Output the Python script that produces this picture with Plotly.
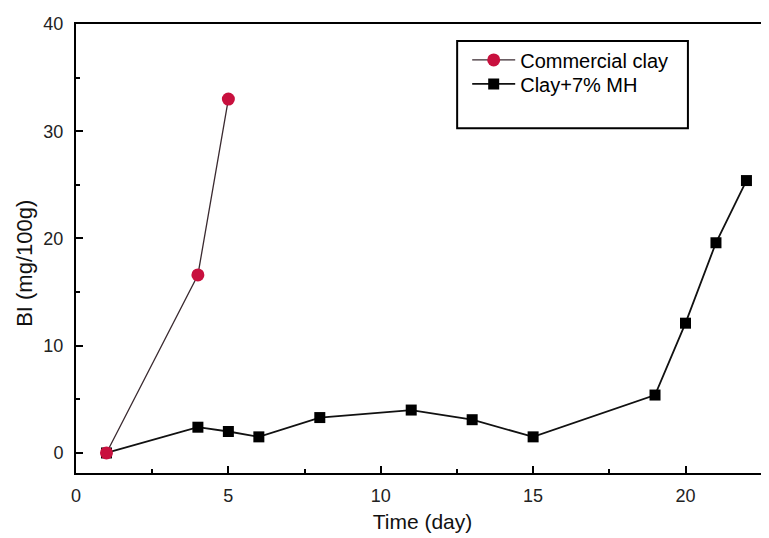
import plotly.graph_objects as go

# Data
time_commercial = [1, 4, 5]
bi_commercial = [0.0, 16.6, 33.0]

time_mh = [1, 4, 5, 6, 8, 11, 13, 15, 19, 20, 21, 22]
bi_mh = [0.0, 2.4, 2.0, 1.5, 3.3, 4.0, 3.1, 1.5, 5.4, 12.1, 19.6, 25.4]

x_ticks = [0, 5, 10, 15, 20]
y_ticks = [0, 10, 20, 30, 40]

FONT = "Arial, Liberation Sans, sans-serif"

# The page body has an 8px default margin, so the figure is sized 761x530
fig = go.Figure()
fig.add_trace(go.Scatter(
    x=time_mh, y=bi_mh, mode="lines+markers",
    name="Clay+7% MH", legend="legend2",
    line=dict(color="#111111", width=1.8),
    marker=dict(symbol="square", size=11, color="#000000",
                line=dict(width=0)),
))
fig.add_trace(go.Scatter(
    x=time_commercial, y=bi_commercial, mode="lines+markers",
    name="Commercial clay", legend="legend",
    line=dict(color="#3a2a30", width=1.3),
    marker=dict(symbol="circle", size=13, color="#c8103e",
                line=dict(width=0)),
))

fig.add_shape(type="rect", xref="paper", yref="paper",
              x0=0.550, x1=0.883, y0=0.768, y1=0.962,
              line=dict(color="#000000", width=2), fillcolor="rgba(0,0,0,0)")

fig.add_annotation(text="BI (mg/100g)", textangle=-90, showarrow=False,
                   xref="paper", yref="paper", x=-0.0736, y=0.468,
                   xanchor="center", yanchor="middle",
                   font=dict(size=22, family=FONT, color="#111111"))

legend_common = dict(xanchor="left", yanchor="top",
                     bgcolor="rgba(0,0,0,0)", borderwidth=0,
                     font=dict(size=20, family=FONT, color="#000000"),
                     tracegroupgap=0, itemwidth=43)

fig.update_layout(
    width=761, height=530,
    margin=dict(l=68, r=0, t=16, b=65),
    paper_bgcolor="white", plot_bgcolor="white",
    font=dict(family=FONT, color="#111111", size=14),
    showlegend=True,
    legend=dict(x=0.5645, y=0.9635, **legend_common),
    legend2=dict(x=0.5645, y=0.910, **legend_common),
    xaxis=dict(
        range=[0, 22.74], tickvals=x_ticks, ticktext=[str(v) for v in x_ticks],
        showgrid=False, zeroline=False, showline=True, linecolor="#000000",
        linewidth=2, mirror=True, ticks="inside", ticklen=7, tickwidth=2,
        tickcolor="#000000", automargin=False, ticklabelstandoff=5,
        minor=dict(ticks="inside", dtick=2.5, tick0=0, ticklen=4, tickwidth=2,
                   tickcolor="#000000", showgrid=False),
        tickfont=dict(size=18, color="#222222"),
        title=dict(text="Time (day)", font=dict(size=21, color="#111111"),
                   standoff=10),
    ),
    yaxis=dict(
        range=[-1.87, 40], tickvals=y_ticks, ticktext=[str(v) for v in y_ticks],
        showgrid=False, zeroline=False, showline=True, linecolor="#000000",
        linewidth=2, mirror=False, ticks="inside", ticklen=7, tickwidth=2,
        tickcolor="#000000", automargin=False, ticklabelstandoff=7,
        minor=dict(ticks="inside", dtick=5, tick0=0, ticklen=4, tickwidth=2,
                   tickcolor="#000000", showgrid=False),
        tickfont=dict(size=18, color="#222222"),
    ),
)

fig.write_html("out.html")
